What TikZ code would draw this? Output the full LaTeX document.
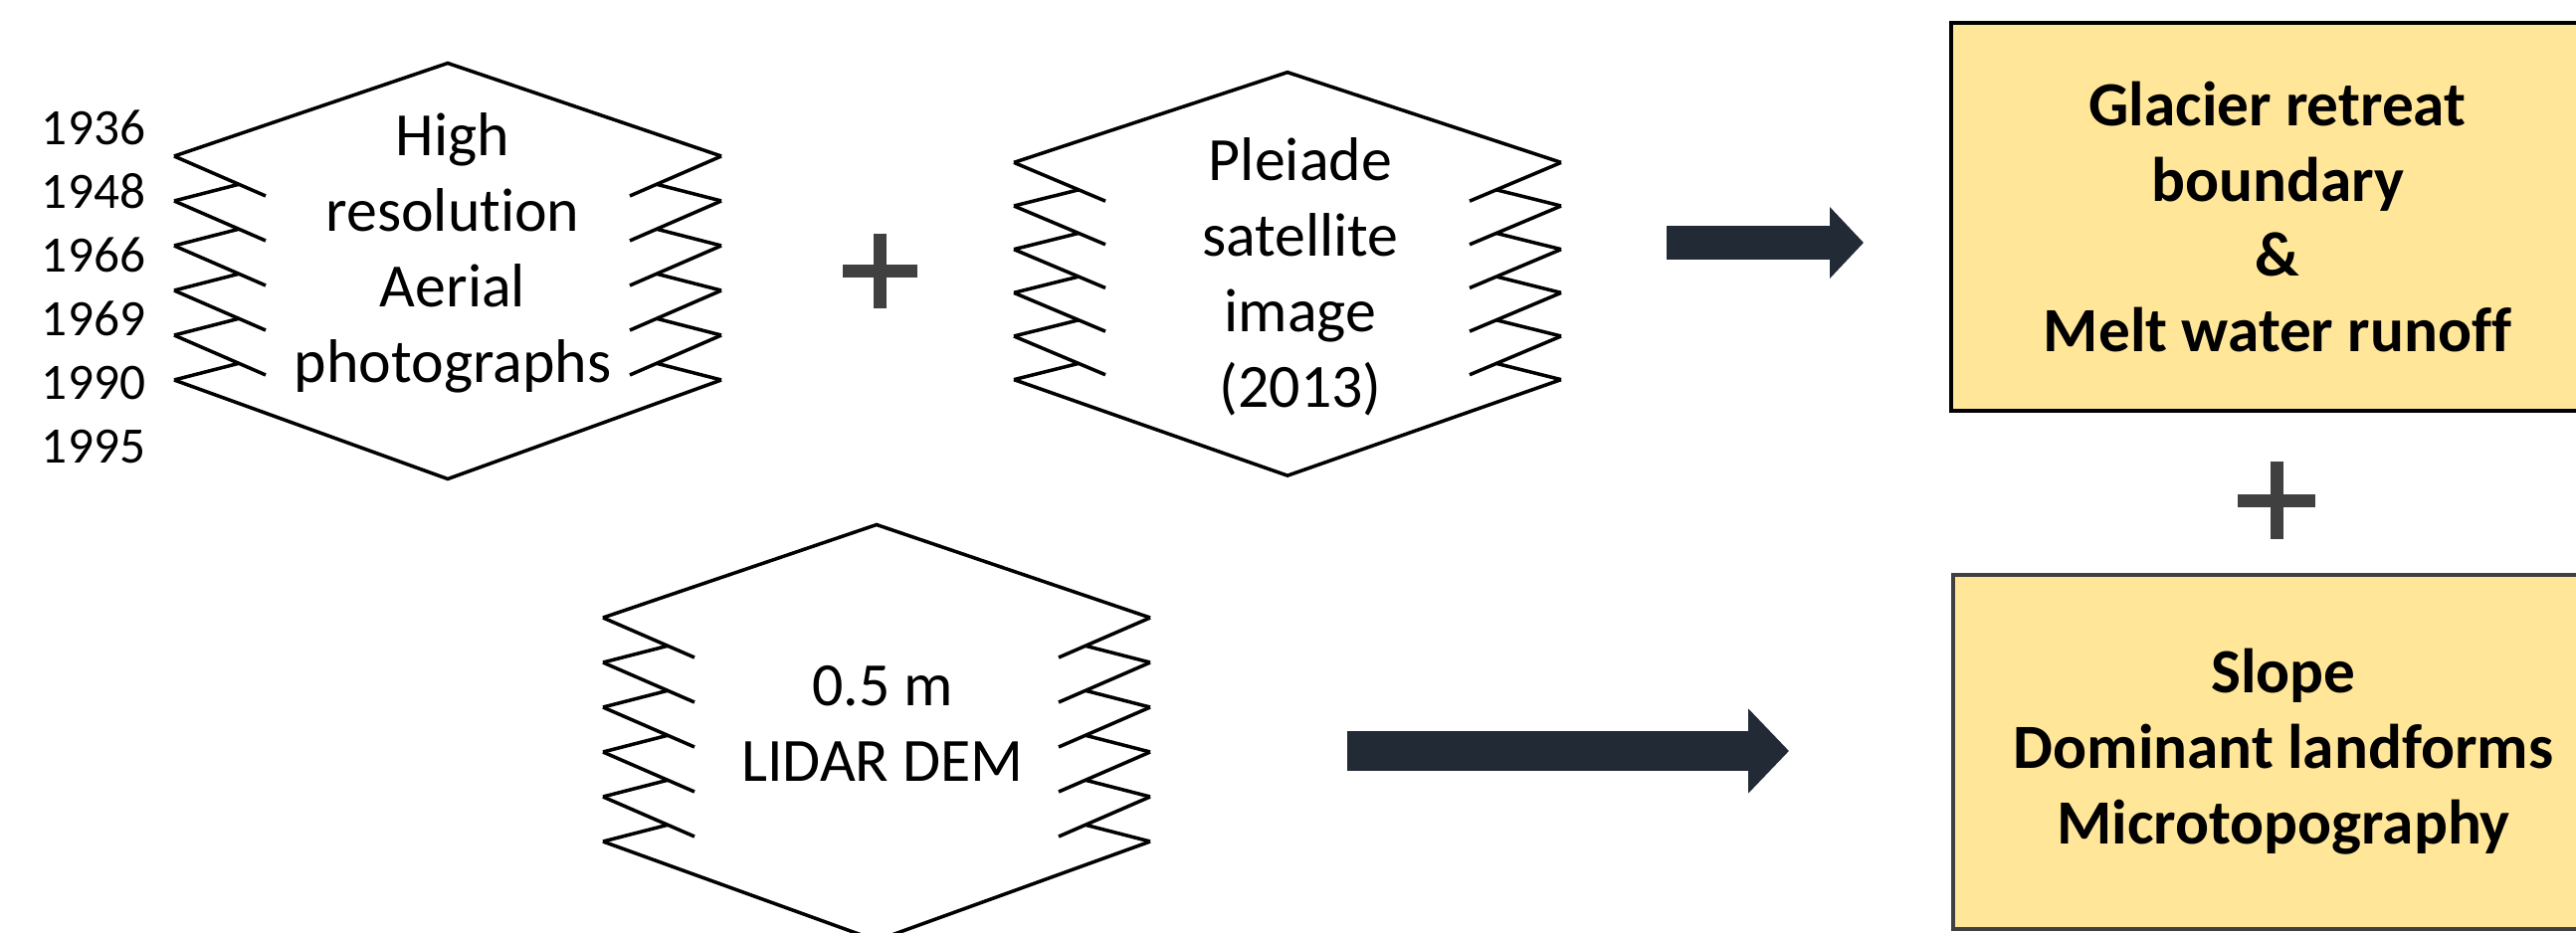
\documentclass[tikz,border=0pt]{standalone}
\usepackage{fontspec}
\setmainfont{Carlito}[Ligatures=NoCommon]
\definecolor{boxyellow}{RGB}{255, 230, 153}
\definecolor{arrowdark}{RGB}{34, 42, 53}
\definecolor{plusgray}{RGB}{64, 64, 64}
\usepackage{tikz}
\usetikzlibrary{arrows.meta}

\tikzset{
  stackline/.style={line width=1pt, black},
  pics/photostack/.style={code={
    \draw[stackline] (-2.75,1.125) -- (0,2.06) -- (2.75,1.125);
    \draw[stackline] (-2.75,-1.125) -- (0,-2.12) -- (2.75,-1.125);
    \foreach \y in {1.125,0.675,0.225,-0.225,-0.675} {
      \draw[stackline] (-2.75,\y) -- (-1.83,\y-0.40);
      \draw[stackline] (-2.75,\y-0.45) -- (-2.10,\y-0.283);
      \draw[stackline] (2.75,\y) -- (1.83,\y-0.40);
      \draw[stackline] (2.75,\y-0.45) -- (2.10,\y-0.283);
    }
  }},
  stacktext/.style={align=center, inner sep=0pt, font=\fontsize{17.6pt}{21.6pt}\selectfont},
  resultbox/.style={fill=boxyellow, line width=1.2pt, align=center, inner sep=0pt,
    font=\bfseries\fontsize{18pt}{21.6pt}\selectfont},
  blockarrow/.style={draw=arrowdark},
  plussign/.style={draw=plusgray, line width=0.13cm}
}

\begin{document}
\begin{tikzpicture}
  \useasboundingbox (0,0) rectangle (25.89,9.37);
  \clip (0,0) rectangle (25.89,9.37);

  % Input data
  \node[align=center, inner sep=0pt, font=\fontsize{14.6pt}{18.2pt}\selectfont] (years) at (0.94,6.49) {1936\\1948\\1966\\1969\\1990\\1995};
  \pic (aerial) at (4.50,6.675) {photostack};
  \node[stacktext] (aerialtxt) at (4.55,6.83) {High\\resolution\\Aerial\\photographs};

  \pic[yscale=0.97] (pleiade) at (12.94,6.645) {photostack};
  \node[stacktext] (pleiadetxt) at (13.07,6.59) {Pleiade\\satellite\\image\\(2013)};

  \pic (lidar) at (8.81,2.035) {photostack};
  \node[stacktext] (lidartxt) at (8.87,2.10) {0.5 m\\LIDAR DEM};

  % Plus signs
  \coordinate (plusA) at (8.845,6.65);
  \coordinate (plusB) at (22.88,4.34);
  \draw[plussign] ([xshift=-0.375cm]plusA) -- ([xshift=0.375cm]plusA);
  \draw[plussign] ([yshift=-0.375cm]plusA) -- ([yshift=0.375cm]plusA);
  \draw[plussign] ([xshift=-0.39cm]plusB) -- ([xshift=0.39cm]plusB);
  \draw[plussign] ([yshift=-0.39cm]plusB) -- ([yshift=0.39cm]plusB);

  % Arrows
  \coordinate (tailA) at (16.75,6.93);
  \coordinate (tipA) at (18.73,6.93);
  \coordinate (tailB) at (13.54,1.82);
  \coordinate (tipB) at (17.98,1.82);
  \draw[blockarrow, line width=0.34cm, -{Triangle[length=0.34cm, width=0.70cm]}] (tailA) -- (tipA);
  \draw[blockarrow, line width=0.40cm, -{Triangle[length=0.41cm, width=0.83cm]}] (tailB) -- (tipB);

  % Results
  \node[resultbox, draw=black, minimum width=6.56cm, minimum height=3.9cm] (glacier) at (22.89,7.19) {Glacier retreat\\boundary\\\&\\Melt water runoff};
  \node[resultbox, draw=plusgray, minimum width=6.64cm, minimum height=3.56cm] (terrain) at (22.95,1.81) {Slope\\Dominant landforms\\Microtopography};
\end{tikzpicture}
\end{document}
